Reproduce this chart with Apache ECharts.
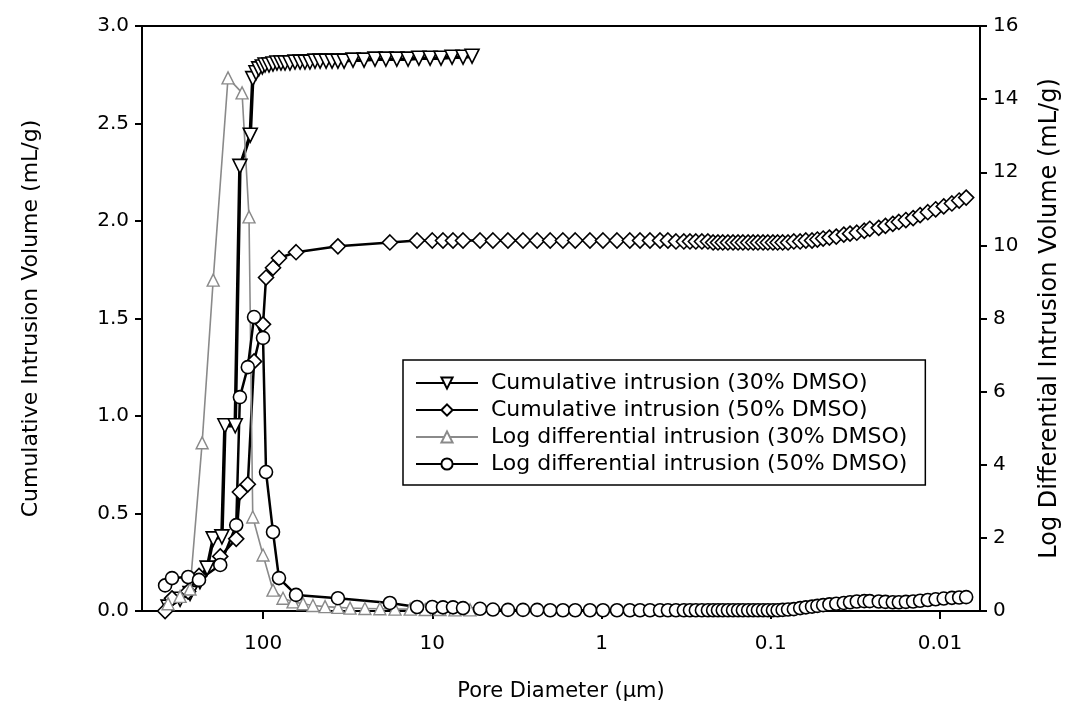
<!DOCTYPE html>
<html><head><meta charset="utf-8">
<script src="https://cdn.jsdelivr.net/npm/echarts@6/dist/echarts.min.js"></script>
<style>html,body{margin:0;padding:0;background:#fff}#c{width:1079px;height:707px}</style>
</head><body><div id="c"></div>
<script>
// Pore diameter tick values (µm)
const xTicks = [100, 10, 1, 0.1, 0.01];

// 30% DMSO cumulative intrusion (mL/g)
const d30cum = [364, 309, 270, 236, 214, 197, 175, 168, 146, 137, 119, 115, 110, 106, 101, 97.3, 92.2, 87.3, 82.7, 78.3, 74.1, 69.3, 64.7, 60.4, 56.5, 52.8, 49.3, 46.0, 42.4, 39.1, 36.1, 33.2, 29.4, 25.3, 21.8, 18.8, 16.2, 13.9, 12.0, 10.3, 8.88, 7.64, 6.58, 5.82];
const v30cum = [0.02, 0.06, 0.09, 0.15, 0.22, 0.37, 0.38, 0.95, 0.95, 2.28, 2.44, 2.73, 2.76, 2.78, 2.79, 2.80, 2.80, 2.805, 2.81, 2.81, 2.81, 2.81, 2.815, 2.815, 2.815, 2.815, 2.82, 2.82, 2.82, 2.82, 2.82, 2.82, 2.825, 2.825, 2.83, 2.83, 2.83, 2.83, 2.835, 2.835, 2.835, 2.84, 2.84, 2.845];

// 30% DMSO log differential intrusion (mL/g)
const d30ld = [364, 309, 270, 229, 197, 161, 133, 121, 115, 100, 87.3, 76.2, 66.5, 58.0, 50.7, 43.0, 36.1, 30.6, 25.0, 20.4, 16.6, 13.5, 11.0, 9.0, 7.34, 5.98];
const v30ld = [0.2, 0.4, 0.6, 4.6, 9.05, 14.58, 14.17, 10.78, 2.57, 1.53, 0.57, 0.35, 0.25, 0.2, 0.15, 0.12, 0.1, 0.08, 0.07, 0.06, 0.05, 0.05, 0.04, 0.04, 0.03, 0.03];

// 50% DMSO (shared diameters)
const d50 = [379, 345, 277, 239, 179, 144, 137, 123, 113, 100, 96, 87.3, 80.5, 63.8, 36.1, 17.8, 12.3, 10.0, 8.64, 7.54, 6.58, 5.22, 4.38, 3.57, 2.91, 2.40, 2.01, 1.69, 1.43, 1.17, 0.98, 0.81, 0.68, 0.592, 0.517, 0.451, 0.405, 0.363, 0.326, 0.300, 0.277, 0.255, 0.235, 0.219, 0.205, 0.192, 0.179, 0.167, 0.156, 0.146, 0.136, 0.127, 0.119, 0.111, 0.104, 0.097, 0.091, 0.085, 0.079, 0.073, 0.067, 0.062, 0.057, 0.053, 0.049, 0.045, 0.041, 0.037, 0.034, 0.031, 0.028, 0.026, 0.023, 0.021, 0.019, 0.0175, 0.0159, 0.0144, 0.0131, 0.0118, 0.0106, 0.0095, 0.0085, 0.0077, 0.0070];
const v50cum = [0.0, 0.065, 0.10, 0.18, 0.28, 0.37, 0.61, 0.65, 1.28, 1.47, 1.71, 1.76, 1.81, 1.84, 1.87, 1.89, 1.90, 1.90, 1.90, 1.90, 1.90, 1.90, 1.90, 1.90, 1.90, 1.90, 1.90, 1.90, 1.90, 1.90, 1.90, 1.90, 1.90, 1.90, 1.90, 1.90, 1.90, 1.895, 1.895, 1.895, 1.895, 1.895, 1.895, 1.89, 1.89, 1.89, 1.89, 1.89, 1.89, 1.89, 1.89, 1.89, 1.89, 1.89, 1.89, 1.89, 1.89, 1.89, 1.89, 1.895, 1.895, 1.90, 1.90, 1.905, 1.91, 1.915, 1.92, 1.93, 1.935, 1.94, 1.95, 1.96, 1.965, 1.975, 1.985, 1.995, 2.005, 2.015, 2.03, 2.045, 2.06, 2.075, 2.09, 2.105, 2.12];
const v50ld = [0.7, 0.9, 0.93, 0.85, 1.26, 2.35, 5.85, 6.67, 8.04, 7.47, 3.8, 2.16, 0.9, 0.44, 0.35, 0.22, 0.11, 0.11, 0.10, 0.10, 0.08, 0.06, 0.04, 0.03, 0.03, 0.03, 0.02, 0.02, 0.02, 0.02, 0.02, 0.02, 0.02, 0.02, 0.02, 0.02, 0.02, 0.02, 0.02, 0.02, 0.02, 0.02, 0.02, 0.02, 0.02, 0.02, 0.02, 0.02, 0.02, 0.02, 0.02, 0.02, 0.02, 0.02, 0.02, 0.02, 0.02, 0.03, 0.04, 0.05, 0.08, 0.10, 0.12, 0.14, 0.16, 0.18, 0.20, 0.22, 0.24, 0.26, 0.27, 0.27, 0.26, 0.25, 0.24, 0.24, 0.25, 0.26, 0.28, 0.30, 0.32, 0.34, 0.36, 0.37, 0.38];

const names = ['Cumulative intrusion (30% DMSO)', 'Cumulative intrusion (50% DMSO)', 'Log differential intrusion (30% DMSO)', 'Log differential intrusion (50% DMSO)'];

const zip = (a, b) => a.map((x, i) => [x, b[i]]);
const FONT = 'DejaVu Sans';

const chart = echarts.init(document.getElementById('c'), null, {renderer: 'canvas'});
chart.setOption({
  animation: false,
  backgroundColor: '#fff',
  textStyle: {fontFamily: FONT, color: '#000'},
  grid: {left: 142, right: 99, top: 26, bottom: 96, show: true, borderColor: '#000', borderWidth: 2},
  legend: {
    orient: 'vertical', left: 403, top: 360,
    data: names,
    backgroundColor: '#fff', borderColor: '#000', borderWidth: 1.5,
    padding: [12, 18, 10, 12], itemGap: 5, itemWidth: 62, itemHeight: 14,
    textStyle: {fontFamily: FONT, fontSize: 22, color: '#000', padding: [0, 0, 0, 8]}
  },
  xAxis: {
    type: 'log', logBase: 10, inverse: true, min: 0.0058, max: 519,
    name: 'Pore Diameter (µm)', nameLocation: 'middle', nameGap: 70,
    nameTextStyle: {fontFamily: FONT, fontSize: 21, color: '#000'},
    axisLine: {lineStyle: {color: '#000', width: 2}},
    axisTick: {length: 8, lineStyle: {color: '#000', width: 2}, customValues: xTicks},
    axisLabel: {customValues: xTicks, fontFamily: FONT, fontSize: 20, color: '#000', margin: 23, formatter: v => String(v)},
    splitLine: {show: false}, minorTick: {show: false}
  },
  yAxis: [{
    type: 'value', min: 0, max: 3, interval: 0.5, position: 'left',
    name: 'Cumulative Intrusion Volume (mL/g)', nameLocation: 'middle', nameGap: 100, nameRotate: 90,
    nameTextStyle: {fontFamily: FONT, fontSize: 22, color: '#000'},
    axisLine: {show: true, lineStyle: {color: '#000', width: 2}},
    axisTick: {show: true, length: 7, lineStyle: {color: '#000', width: 2}},
    axisLabel: {fontFamily: FONT, fontSize: 20, color: '#000', margin: 13, formatter: v => v.toFixed(1)},
    splitLine: {show: false}
  }, {
    type: 'value', min: 0, max: 16, interval: 2, position: 'right',
    name: 'Log Differential Intrusion Volume (mL/g)', nameLocation: 'middle', nameGap: 58, nameRotate: 90,
    nameTextStyle: {fontFamily: FONT, fontSize: 24, color: '#000'},
    axisLine: {show: true, lineStyle: {color: '#000', width: 2}},
    axisTick: {show: true, length: 7, lineStyle: {color: '#000', width: 2}},
    axisLabel: {fontFamily: FONT, fontSize: 20, color: '#000', margin: 13},
    splitLine: {show: false}
  }],
  series: [{
    name: names[0], type: 'line', yAxisIndex: 0, data: zip(d30cum, v30cum),
    symbol: 'triangle', symbolRotate: 180, symbolSize: 14,
    lineStyle: {color: '#000', width: 3.5}, itemStyle: {color: '#fff', borderColor: '#000', borderWidth: 1.6}
  }, {
    name: names[1], type: 'line', yAxisIndex: 0, data: zip(d50, v50cum),
    symbol: 'diamond', symbolSize: 15,
    lineStyle: {color: '#000', width: 2.5}, itemStyle: {color: '#fff', borderColor: '#000', borderWidth: 1.6}
  }, {
    name: names[2], type: 'line', yAxisIndex: 1, data: zip(d30ld, v30ld),
    symbol: 'triangle', symbolSize: 12,
    lineStyle: {color: '#8a8a8a', width: 1.6}, itemStyle: {color: '#fff', borderColor: '#8a8a8a', borderWidth: 1.4}
  }, {
    name: names[3], type: 'line', yAxisIndex: 1, data: zip(d50, v50ld),
    symbol: 'circle', symbolSize: 13,
    lineStyle: {color: '#000', width: 2.5}, itemStyle: {color: '#fff', borderColor: '#000', borderWidth: 1.6}
  }]
});
</script>
</body></html>
